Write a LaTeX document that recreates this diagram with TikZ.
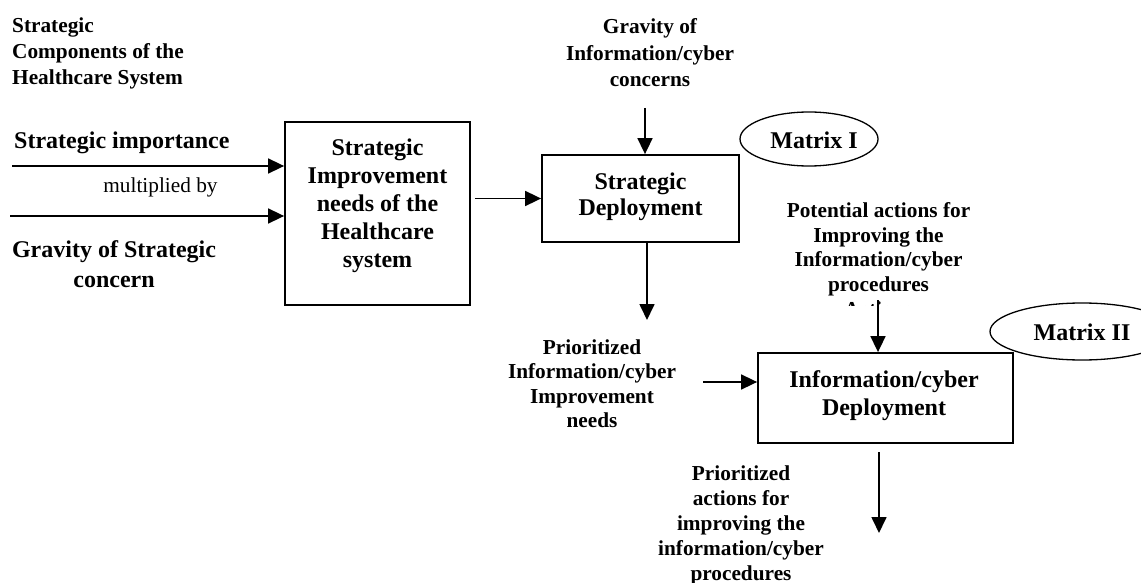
\documentclass[tikz,border=0pt]{standalone}
\usepackage{fontspec}
\setmainfont{Liberation Serif}
\usetikzlibrary{arrows.meta,shapes.geometric}
\begin{document}
\begin{tikzpicture}[x=1pt,y=-1pt,
  frame/.style={draw, line width=1.8pt, inner sep=0pt, rectangle},
  oval/.style={draw, line width=1.3pt, ellipse, inner sep=0pt},
  small/.style={font=\bfseries\fontsize{21.3}{#1}\selectfont, align=center, inner sep=0pt},
  large/.style={font=\bfseries\fontsize{24}{#1}\selectfont, align=center, inner sep=0pt},
  flow/.style={line width=1.7pt, -{Triangle[length=16pt,width=15pt]}}]
\clip (0,0) rectangle (1141,583);
\fill[white] (0,0) rectangle (1141,583);

% boxes
\node[frame, minimum width=185pt, minimum height=183pt] (improve) at (377.5,213.5) {};
\node[frame, minimum width=197pt, minimum height=87pt] (sdeploy) at (640.5,198.5) {};
\node[frame, minimum width=255pt, minimum height=90pt] (ideploy) at (885.5,398) {};
\node[oval, minimum width=138pt, minimum height=54pt] (matA) at (809,139) {};
\node[oval, minimum width=184pt, minimum height=57pt] (matB) at (1082,331.5) {};

% box texts
\node[large=28pt] (improveT) at (377.5,206) {Strategic\\Improvement\\needs of the\\Healthcare\\system};
\node[large=26.5pt] (sdeployT) at (640.5,197) {Strategic\\Deployment};
\node[large=28pt] (ideployT) at (884,396) {Information/cyber\\Deployment};
\node[large=28pt] (matAT) at (814,140) {Matrix I};
\node[large=28pt] (matBT) at (1082,332) {Matrix II};

% free labels
\node[small=26pt, align=left, anchor=west] (comp) at (12,53) {Strategic\\Components of the\\Healthcare System};
\node[large=28pt, anchor=west] (simp) at (14,143) {Strategic importance};
\node[font=\fontsize{21.3}{25}\selectfont, inner sep=0pt] (mult) at (160.5,187) {multiplied by};
\node[large=30pt] (gstrat) at (114,264) {Gravity of Strategic\\concern};
\node[small=26.5pt] (gcyber) at (650,53) {Gravity of\\Information/cyber\\concerns};
\node[small=24.5pt] (prio) at (592,383.5) {Prioritized\\Information/cyber\\Improvement\\needs};
\node[small=25pt] (pact) at (741,525) {Prioritized\\actions for\\improving the\\information/cyber\\procedures};
\begin{scope}
  \clip (700,180) rectangle (1060,305.5);
  \node[small=24.75pt] (pot) at (878.5,259.5) {Potential actions for\\Improving the\\Information/cyber\\procedures\\Actions};
\end{scope}

% arrow ends
\coordinate (a1) at (12,166);
\coordinate (a2) at (10,216);
\coordinate (a3) at (645,108);
\coordinate (a4) at (647,320);
\coordinate (a5) at (878,300);
\coordinate (a6) at (703,382);
\coordinate (a7) at (879,452);
\coordinate (a8) at (879,533);

% connectors
\draw[flow] (a1) -- (a1 -| improve.west);
\draw[flow] (a2) -- (a2 -| improve.west);
\draw[flow, shorten <=4pt] (improve.east |- sdeploy.west) -- (sdeploy.west);
\draw[flow] (a3) -- (a3 |- sdeploy.north);
\draw[flow] (a4 |- sdeploy.south) -- (a4);
\draw[flow] (a5) -- (a5 |- ideploy.north);
\draw[flow] (a6) -- (a6 -| ideploy.west);
\draw[flow] (a7) -- (a8);
\end{tikzpicture}
\end{document}
